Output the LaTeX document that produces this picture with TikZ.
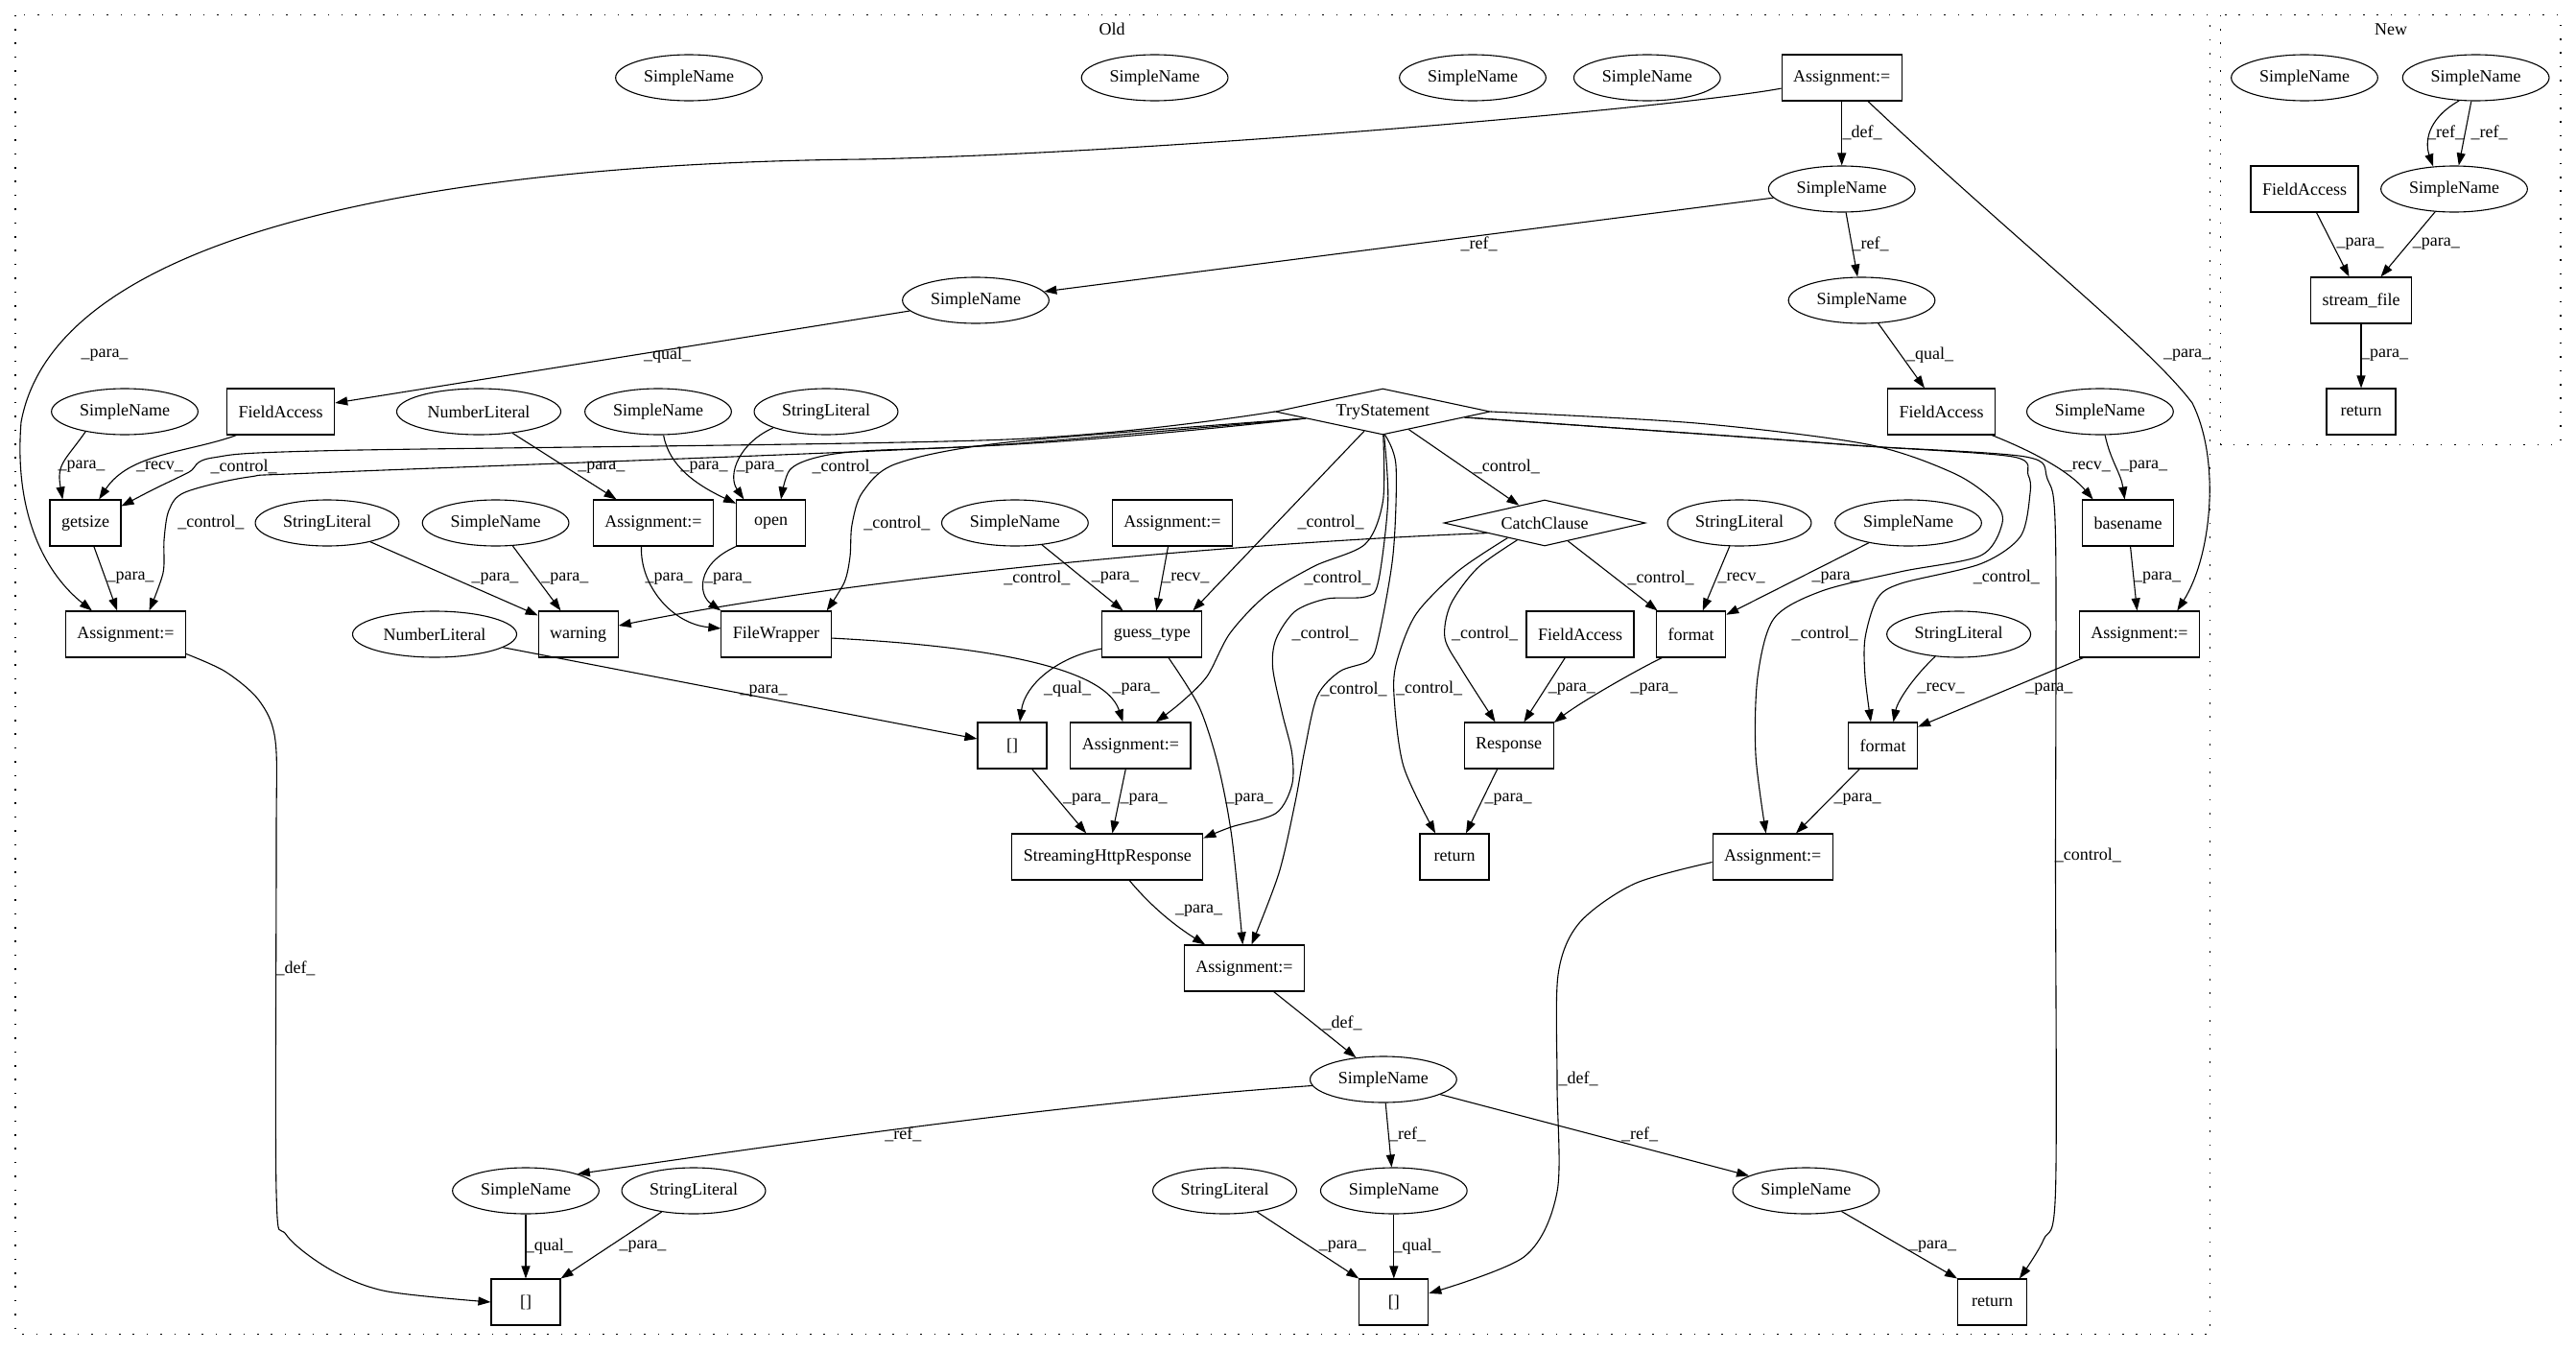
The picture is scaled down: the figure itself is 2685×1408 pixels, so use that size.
\documentclass[tikz,border=0pt]{standalone}
\usepackage{fontspec}
\setmainfont{Liberation Serif}
\usetikzlibrary{shapes.geometric,arrows.meta}
\tikzset{
  every node/.style={font=\fontsize{18}{21}\selectfont},
  sn/.style={ellipse, draw, line width=1.1pt, inner xsep=7pt, inner ysep=0pt, minimum height=48pt},
  bx/.style={rectangle, draw, line width=1.1pt, inner xsep=12pt, inner ysep=0pt, minimum width=72pt, minimum height=48pt},
  dm/.style={diamond, draw, line width=1.1pt, inner sep=0pt, aspect=4, minimum height=48pt},
  arr/.style={-{Triangle[length=13pt,width=9pt]}, line width=1.1pt},
  lbl/.style={inner sep=0pt},
  cluster/.style={line width=1.3pt, dash pattern=on 1.5pt off 12.9pt},
}
\begin{document}
\begin{tikzpicture}[x=1pt,y=1pt]
\useasboundingbox (0,0) rectangle (2685,-1408);
\fill[white] (0,0) rectangle (2685,-1408);
\draw[cluster] (16,-15.6) rectangle (2303.5,-1390.8);
\node (oldlbl) at (1159,-30.4) {Old};
\draw[cluster] (2314.7,-15.6) rectangle (2669,-463.4);
\node (newlbl) at (2492,-30.4) {New};

\node[sn] (sn1a) at (718,-81) {SimpleName};
\node[sn] (sn1b) at (1203.6,-81) {SimpleName};
\node[sn] (sn1c) at (1535,-81) {SimpleName};
\node[sn] (sn1d) at (1716.8,-81) {SimpleName};
\node[bx] (asg1) at (1919.7,-81) {Assignment:=};
\node[sn] (sn2) at (1919.7,-197) {SimpleName};
\node[sn] (sn3a) at (1017,-313) {SimpleName};
\node[sn] (sn3b) at (1940.5,-313) {SimpleName};

\node[sn] (sn4a) at (130,-429) {SimpleName};
\node[bx] (fa4a) at (292.7,-429) {FieldAccess};
\node[sn] (nl4) at (499,-429) {NumberLiteral};
\node[sn] (sn4b) at (686,-429) {SimpleName};
\node[sn] (str4) at (861,-429) {StringLiteral};
\node[dm, minimum width=224pt] (try) at (1441.3,-429) {TryStatement};
\node[bx] (fa4b) at (2023.5,-429) {FieldAccess};
\node[sn] (sn4c) at (2188.9,-429) {SimpleName};

\node[bx] (getsize) at (89,-545) {getsize};
\node[sn] (str5a) at (341,-545) {StringLiteral};
\node[sn] (sn5a) at (516.6,-545) {SimpleName};
\node[bx] (asg5a) at (681,-545) {Assignment:=};
\node[bx] (open) at (803.6,-545) {open};
\node[sn] (sn5b) at (1057.9,-545) {SimpleName};
\node[bx] (asg5b) at (1222,-545) {Assignment:=};
\node[dm, minimum width=210pt] (catch) at (1610,-545) {CatchClause};
\node[sn] (str5b) at (1813,-545) {StringLiteral};
\node[sn] (sn5c) at (1989,-545) {SimpleName};
\node[bx] (basename) at (2218,-545) {basename};

\node[bx] (asg6a) at (131,-661) {Assignment:=};
\node[sn] (nl6) at (453,-661) {NumberLiteral};
\node[bx] (warning) at (602.7,-661) {warning};
\node[bx] (filewrap) at (809,-661) {FileWrapper};
\node[bx] (guess) at (1200.8,-661) {guess\_type};
\node[bx] (fa6) at (1647,-661) {FieldAccess};
\node[bx] (format6) at (1762.7,-661) {format};
\node[sn] (str6) at (2041.6,-661) {StringLiteral};
\node[bx] (asg6b) at (2230,-661) {Assignment:=};

\node[bx] (br7) at (1055,-777) {[]};
\node[bx] (asg7) at (1178.4,-777) {Assignment:=};
\node[bx] (response) at (1572.7,-777) {Response};
\node[bx] (format7) at (1962.5,-777) {format};
\node[bx] (streaming) at (1154.3,-893) {StreamingHttpResponse};
\node[bx] (ret8) at (1516,-893) {return};
\node[bx] (asg8) at (1847.7,-893) {Assignment:=};
\node[bx] (asg9) at (1297,-1009) {Assignment:=};
\node[sn] (sn10) at (1441.9,-1125) {SimpleName};
\node[sn] (sn11a) at (548,-1241) {SimpleName};
\node[sn] (str11a) at (723,-1241) {StringLiteral};
\node[sn] (str11b) at (1276.5,-1241) {StringLiteral};
\node[sn] (sn11b) at (1452.8,-1241) {SimpleName};
\node[sn] (sn11c) at (1882.4,-1241) {SimpleName};
\node[bx] (br12a) at (548,-1357) {[]};
\node[bx] (br12b) at (1452.8,-1357) {[]};
\node[bx] (ret12) at (2076.6,-1357) {return};

\node[sn] (nsn1a) at (2402,-81) {SimpleName};
\node[sn] (nsn1b) at (2580.6,-81) {SimpleName};
\node[bx] (nfa2) at (2402,-197) {FieldAccess};
\node[sn] (nsn2) at (2558,-197) {SimpleName};
\node[bx] (stream) at (2461,-313) {stream\_file};
\node[bx] (nret) at (2461,-429) {return};

% old
\draw[arr] (asg1) -- (sn2) node[lbl] at (1941,-138.4) {\_def\_};
\draw[arr] (asg1.190) .. controls (1750,-112) and (1200,-160) .. (900,-166) .. controls (500,-170) and (60,-230) .. (22,-440) .. controls (14,-540) and (50,-600) .. (asg6a.145) node[lbl] at (109,-370.5) {\_para\_};
\draw[arr] (asg1.-42) .. controls (2100,-250) and (2240,-360) .. (2285,-420) .. controls (2315,-480) and (2305,-580) .. (asg6b.32) node[lbl] at (2279.7,-370.5) {\_para\_};
\draw[arr] (sn2) -- (sn3a) node[lbl] at (1541.7,-254.4) {\_ref\_};
\draw[arr] (sn2) -- (sn3b) node[lbl] at (1949.6,-254.4) {\_ref\_};
\draw[arr] (sn3a) -- (fa4a) node[lbl] at (695.7,-370.5) {\_qual\_};
\draw[arr] (sn3b) -- (fa4b) node[lbl] at (2011.6,-370.5) {\_qual\_};

\draw[arr] (sn4a.-153) to[out=-125,in=100,looseness=1.3] (getsize.134) node[lbl] at (85,-486.6) {\_para\_};
\draw[arr] (fa4a.-152) .. controls (195,-472) and (135,-472) .. (getsize.60) node[lbl] at (166.5,-486.6) {\_recv\_};
\draw[arr] plot[smooth] coordinates {(try.west) (1050,-458) (350,-469.5) (222,-477) (197,-492) (160,-510) (getsize.25)} node[lbl] at (254,-486.6) {\_control\_};
\draw[arr] (getsize) -- (asg6a) node[lbl] at (136,-602.6) {\_para\_};
\draw[arr] plot[smooth] coordinates {(try.185) (1050,-463.5) (350,-492) (260,-497) (193,-513) (176,-532) (171,-563) (170,-597) (asg6a.45)} node[lbl] at (219.8,-544.6) {\_control\_};
\draw[arr] (nl4) -- (asg5a) node[lbl] at (626.8,-487.5) {\_para\_};
\draw[arr] (sn4b.-77) .. controls (697,-485) and (725,-505) .. (open.151) node[lbl] at (734,-487.5) {\_para\_};
\draw[arr] (str4.-163) .. controls (770,-462) and (758,-495) .. (open.139) node[lbl] at (792,-487.5) {\_para\_};
\draw[arr] plot[smooth] coordinates {(try.185) (1050,-463) (900,-470) (850,-477) (823,-490) (open.67)} node[lbl] at (881,-486.8) {\_control\_};
\draw[arr] (str5a) -- (warning.155) node[lbl] at (516,-603) {\_para\_};
\draw[arr] (sn5a) -- (warning) node[lbl] at (588.8,-603) {\_para\_};
\draw[arr] (catch.190) .. controls (1300,-565) and (900,-600) .. (warning.12) node[lbl] at (1080.8,-602.6) {\_control\_};
\draw[arr] (asg5a.-117) .. controls (667,-610) and (700,-650) .. (filewrap.174) node[lbl] at (697,-603) {\_para\_};
\draw[arr] (open.-146) .. controls (725,-588) and (728,-620) .. (filewrap.north west) node[lbl] at (758.5,-603) {\_para\_};
\draw[arr] plot[smooth] coordinates {(try.185) (1050,-461) (935,-483) (899,-513) (888,-547) (886,-580) (880,-607) (filewrap.25)} node[lbl] at (934.8,-545.2) {\_control\_};

\draw[arr] (try) -- (catch) node[lbl] at (1570.4,-486.6) {\_control\_};
\draw[arr] (try) -- (guess.30) node[lbl] at (1387,-544.6) {\_control\_};
\draw[arr] (sn5b) -- (guess) node[lbl] at (1162.3,-602.6) {\_para\_};
\draw[arr] (asg5b) -- (guess) node[lbl] at (1235.8,-602.6) {\_recv\_};
\draw[arr] (nl6) -- (br7) node[lbl] at (796,-720) {\_para\_};
\draw[arr] (guess.-164) .. controls (1100,-685) and (1068,-715) .. (br7.72) node[lbl] at (1112.5,-717.8) {\_qual\_};
\draw[arr] (filewrap.-4) .. controls (1000,-672) and (1150,-690) .. (asg7.108) node[lbl] at (1184,-717.8) {\_para\_};
\draw[arr] plot[smooth] coordinates {(guess.-55) (1250,-737) (1270,-799) (1284,-873) (asg9.94)} node[lbl] at (1302,-833) {\_para\_};
\draw[arr] plot[smooth] coordinates {(try.-89) (1441.5,-522) (1423,-567) (1370,-590) (1320,-620) (1282,-660) (1258,-705) (1230,-733) (asg7.43)} node[lbl] at (1394,-602.5) {\_control\_};
\draw[arr] plot[smooth] coordinates {(try.-87) (1446.7,-522) (1436.5,-607) (1423,-622) (1383,-624) (1350,-637) (1330,-666) (1326.6,-696) (1336.6,-744) (1346.6,-784.6) (1346.6,-818) (1330,-847.5) (1283,-862) (streaming.11)} node[lbl] at (1381,-660.7) {\_control\_};
\draw[arr] plot[smooth] coordinates {(try.-85) (1455,-485) (1452,-578) (1436.5,-666) (1426.5,-688.6) (1396.5,-699.7) (1373,-725.5) (1360,-781) (1350,-836) (1333,-910) (asg9.73)} node[lbl] at (1411,-718) {\_control\_};
\draw[arr] (br7) -- (streaming.132) node[lbl] at (1132.6,-833) {\_para\_};
\draw[arr] (asg7) -- (streaming) node[lbl] at (1192,-833) {\_para\_};
\draw[arr] (streaming.-47) .. controls (1200,-945) and (1225,-965) .. (asg9.149) node[lbl] at (1249.5,-949) {\_para\_};

\draw[arr] plot[smooth] coordinates {(catch.-158) (1520,-595) (1476,-640) (1456,-689) (1453,-725) (1463,-799) (ret8.129)} node[lbl] at (1489.7,-717.8) {\_control\_};
\draw[arr] plot[smooth] coordinates {(catch.-148) (1540,-592) (1512,-630) (1506,-665) (1523,-697) (response.120)} node[lbl] at (1547.5,-660.7) {\_control\_};
\draw[arr] (catch) -- (format6.145) node[lbl] at (1731,-602.6) {\_control\_};
\draw[arr] (fa6) -- (response) node[lbl] at (1638.4,-717.8) {\_para\_};
\draw[arr] (format6.-141) .. controls (1712,-695) and (1650,-730) .. (response.27) node[lbl] at (1724,-717.8) {\_para\_};
\draw[arr] (str5b) -- (format6.64) node[lbl] at (1815,-602) {\_recv\_};
\draw[arr] (sn5c) -- (format6.29) node[lbl] at (1913,-602) {\_para\_};
\draw[arr] (response) -- (ret8) node[lbl] at (1572,-833) {\_para\_};

\draw[arr] (fa4b.-25) .. controls (2130,-475) and (2160,-495) .. (basename.146) node[lbl] at (2175.3,-486.6) {\_recv\_};
\draw[arr] (sn4c) to[out=-78,in=98] (basename) node[lbl] at (2234.6,-486.6) {\_para\_};
\draw[arr] (basename) -- (asg6b) node[lbl] at (2248.7,-602.6) {\_para\_};
\draw[arr] plot[smooth] coordinates {(try.east) (1768,-441) (1946,-463) (2036,-493) (2078,-522) (2087,-545) (2064.5,-579) (1981.6,-595.7) (1898.7,-616) (1849,-644.6) (1832,-705.6) (1830,-787) (asg8.106)} node[lbl] at (1902,-660) {\_control\_};
\draw[arr] plot[smooth] coordinates {(try.-4) (1812,-455) (1946,-465) (2098,-476) (2114,-495) (2116,-514) (2106,-559) (2064.5,-587.6) (1981.6,-608) (1956.7,-624) (1944,-665) (1944,-705) (format7.117)} node[lbl] at (2091.4,-601.8) {\_control\_};
\draw[arr] plot[smooth] coordinates {(try.-4) (1812,-455) (1946,-465) (2111,-476) (2134,-499) (2142.5,-560) (2142.5,-900) (2142.5,-1241) (2130,-1292) (ret12.41)} node[lbl] at (2176.4,-891) {\_control\_};
\draw[arr] (str6) .. controls (1995,-705) and (1978,-730) .. (format7.66) node[lbl] at (2023,-717.8) {\_recv\_};
\draw[arr] (asg6b) -- (format7.28) node[lbl] at (2135.8,-718) {\_para\_};
\draw[arr] (format7) -- (asg8) node[lbl] at (1936,-833) {\_para\_};
\draw[arr] plot[smooth] coordinates {(asg8.185) (1703.6,-921) (1646,-962) (1624,-1016) (1623,-1130) (1623,-1242) (1589,-1309.5) (br12b.14)} node[lbl] at (1645,-1124.4) {\_def\_};
\draw[arr] plot[smooth] coordinates {(asg6a.-18) (235,-700) (270,-730) (287,-772) (288,-880) (288,-1241.8) (298.5,-1287) (344,-1323) (402,-1345.6) (br12a.west)} node[lbl] at (308,-1009.3) {\_def\_};

\draw[arr] (asg9) -- (sn10) node[lbl] at (1399,-1066.6) {\_def\_};
\draw[arr] (sn10.185) .. controls (1100,-1150) and (800,-1195) .. (sn11a.18) node[lbl] at (941.3,-1182.2) {\_ref\_};
\draw[arr] (sn10) -- (sn11b) node[lbl] at (1467,-1182.2) {\_ref\_};
\draw[arr] (sn10) -- (sn11c) node[lbl] at (1709,-1182.2) {\_ref\_};
\draw[arr] (sn11a) -- (br12a) node[lbl] at (572.3,-1299) {\_qual\_};
\draw[arr] (str11a) -- (br12a.north east) node[lbl] at (670,-1299) {\_para\_};
\draw[arr] (str11b) -- (br12b.north west) node[lbl] at (1399.4,-1299) {\_para\_};
\draw[arr] (sn11b) -- (br12b) node[lbl] at (1477,-1299) {\_qual\_};
\draw[arr] (sn11c) -- (ret12.north west) node[lbl] at (2014.5,-1299) {\_para\_};

% new
\draw[arr] (nsn1b.-126) .. controls (2528,-125) and (2528,-150) .. (nsn2.133) node[lbl] at (2549,-138.4) {\_ref\_};
\draw[arr] (nsn1b) -- (nsn2) node[lbl] at (2594.7,-138.4) {\_ref\_};
\draw[arr] (nfa2) -- (stream) node[lbl] at (2460,-254.4) {\_para\_};
\draw[arr] (nsn2) -- (stream) node[lbl] at (2539.4,-254.4) {\_para\_};
\draw[arr] (stream) -- (nret) node[lbl] at (2485.7,-370.5) {\_para\_};
\end{tikzpicture}
\end{document}
